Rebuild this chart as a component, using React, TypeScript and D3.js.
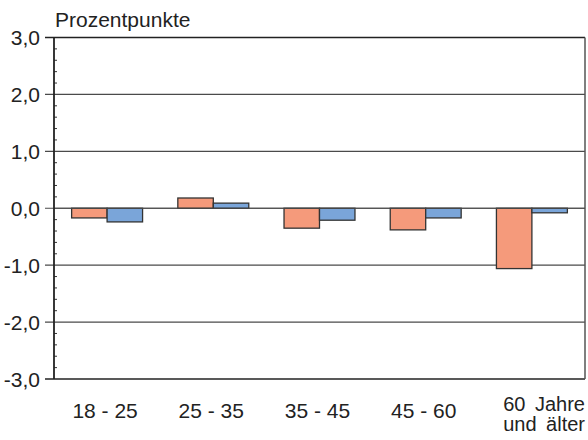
import { useEffect, useRef } from "react";
import * as d3 from "d3";

const CATEGORIES = ["18 - 25", "25 - 35", "35 - 45", "45 - 60", "60 Jahre\nund älter"];
const SERIES = ["a", "b"];
const SERIES_A = [-0.17, 0.18, -0.35, -0.38, -1.06];
const SERIES_B = [-0.24, 0.09, -0.21, -0.17, -0.08];
const COLORS = ["#f59a7b", "#7aa5d9"];
const Y_TICKS = [-3, -2, -1, 0, 1, 2, 3];

const W = 588;
const H = 440;
const FONT = "'Liberation Sans', Arial, sans-serif";

export default function App() {
  const ref = useRef<SVGSVGElement | null>(null);

  useEffect(() => {
    const svg = d3.select(ref.current);
    svg.selectAll("*").remove();

    const left = 54;
    const right = 585;
    const top = 37.5;
    const bottom = 379;

    const x = d3.scaleBand<string>().domain(CATEGORIES).range([left, right]).padding(0);
    const x1 = d3
      .scaleBand<string>()
      .domain(SERIES)
      .range([x.bandwidth() * 0.166, x.bandwidth() * 0.834])
      .padding(0);
    const y = d3.scaleLinear().domain([-3, 3]).range([bottom, top]);

    // gridlines
    svg
      .append("g")
      .selectAll("line")
      .data(Y_TICKS)
      .join("line")
      .attr("x1", left - 9)
      .attr("x2", right)
      .attr("y1", (d) => y(d))
      .attr("y2", (d) => y(d))
      .attr("stroke", (d) => (d === 3 || d === -3 ? "#222" : "#4a4a4a"))
      .attr("stroke-width", (d) => (d === 3 || d === -3 ? 1.5 : 1.2));

    // minor ticks every 0.2
    const minor = d3.range(-30, 31, 2).map((v) => v / 10).filter((v) => Math.abs(v % 1) > 0.01);
    svg
      .append("g")
      .selectAll("line")
      .data(minor)
      .join("line")
      .attr("x1", left)
      .attr("x2", left + 3)
      .attr("y1", (d) => y(d))
      .attr("y2", (d) => y(d))
      .attr("stroke", "#333")
      .attr("stroke-width", 1);

    // right border
    svg
      .append("line")
      .attr("x1", right)
      .attr("x2", right)
      .attr("y1", top)
      .attr("y2", bottom)
      .attr("stroke", "#555")
      .attr("stroke-width", 1.5);

    // bars
    const rows = CATEGORIES.map((c, i) => ({ c, vals: [SERIES_A[i], SERIES_B[i]] }));
    const groups = svg
      .append("g")
      .selectAll("g")
      .data(rows)
      .join("g")
      .attr("transform", (d) => `translate(${x(d.c)},0)`);
    groups
      .selectAll("rect")
      .data((d) => d.vals.map((v, j) => ({ s: SERIES[j], v, j })))
      .join("rect")
      .attr("x", (d) => x1(d.s) ?? 0)
      .attr("width", x1.bandwidth())
      .attr("y", (d) => Math.min(y(d.v), y(0)))
      .attr("height", (d) => Math.abs(y(d.v) - y(0)))
      .attr("fill", (d) => COLORS[d.j])
      .attr("stroke", "#333")
      .attr("stroke-width", 1.3);

    // zero line on top
    svg
      .append("line")
      .attr("x1", left)
      .attr("x2", right)
      .attr("y1", y(0))
      .attr("y2", y(0))
      .attr("stroke", "#4a4a4a")
      .attr("stroke-width", 1.2);

    // left axis
    svg
      .append("line")
      .attr("x1", left)
      .attr("x2", left)
      .attr("y1", top)
      .attr("y2", bottom)
      .attr("stroke", "#222")
      .attr("stroke-width", 1.8);

    // y labels
    svg
      .append("g")
      .selectAll("text")
      .data(Y_TICKS)
      .join("text")
      .attr("x", 40)
      .attr("y", (d) => y(d))
      .attr("dy", "0.36em")
      .attr("text-anchor", "end")
      .attr("font-family", FONT)
      .attr("font-size", 21)
      .attr("fill", "#222")
      .text((d) => d3.format(".1f")(d).replace(".", ",").replace("−", "-"));

    svg
      .append("text")
      .attr("x", 55)
      .attr("y", 27)
      .attr("font-family", FONT)
      .attr("font-size", 21)
      .attr("fill", "#222")
      .text("Prozentpunkte");

    // x labels
    const last = CATEGORIES[CATEGORIES.length - 1];
    const xl = svg
      .append("g")
      .selectAll("text")
      .data(CATEGORIES)
      .join("text")
      .attr("x", (d) => (d === last ? (x(d) ?? 0) + x.bandwidth() : (x(d) ?? 0) + x.bandwidth() / 2 - 2))
      .attr("y", (d) => (d === last ? 411 : 418))
      .attr("text-anchor", (d) => (d === last ? "end" : "middle"))
      .attr("font-family", FONT)
      .attr("font-size", (d) => (d === last ? 20 : 21))
      .attr("word-spacing", (d) => (d === last ? 4 : 0))
      .attr("fill", "#222");
    xl.each(function (d) {
      const lines = d.split("\n");
      const t = d3.select(this);
      lines.forEach((ln, i) => {
        t.append("tspan")
          .attr("x", t.attr("x"))
          .attr("dy", i === 0 ? 0 : 20)
          .text(ln);
      });
    });
  }, []);

  return (
    <svg
      ref={ref}
      width={W}
      height={H}
      style={{ position: "absolute", left: 0, top: 0, background: "#fff" }}
    />
  );
}
